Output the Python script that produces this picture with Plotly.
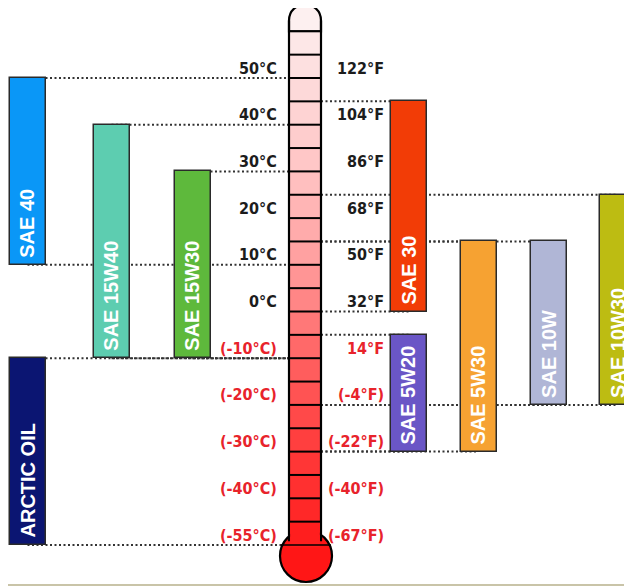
import plotly.graph_objects as go

# ---------------- data ----------------
oils = ["SAE 40", "SAE 15W40", "SAE 15W30", "ARCTIC OIL", "SAE 30",
        "SAE 5W20", "SAE 5W30", "SAE 10W", "SAE 10W30"]
top_c = [50, 40, 30, -10, 45, -5, 15, 15, 25]
bottom_c = [10, -10, -10, -55, 0, -30, -30, -20, -20]
side = ["L", "L", "L", "L", "R", "R", "R", "R", "R"]

celsius_ticks = [50, 40, 30, 20, 10, 0, -10, -20, -30, -40, -55]
fahrenheit_ticks = [122, 104, 86, 68, 50, 32, 14, -4, -22, -40, -67]

# ---------------- styles / layout ----------------
bar_colors = ["#0A97F7", "#5DCDB0", "#5EB93C", "#0B1572", "#F23C06",
              "#6A56C6", "#F6A232", "#B0B6D6", "#BDBC12"]
col_x = [27.5, 111.5, 192.5, 27.5, 408.5, 408.5, 478.5, 549, 618]
bar_w = 36
TUBE_L, TUBE_R = 289, 321
PX_PER_UNIT = 4.67
PAGE_OFF = 8  # page body margin
RED = "#E8232B"
DARK = "#1C1C1C"
LABEL_FONT = "Liberation Sans Narrow, DejaVu Sans Condensed, Arial Narrow, sans-serif"


def pos(t):
    """temperature -> axis position (last step -40 -> -55 is drawn as one division)"""
    return t if t >= -40 else -40 + (t + 40) * 10.0 / 15.0


fig = go.Figure()

bases = [pos(b) for b in bottom_c]
heights = [pos(t) - pos(b) for t, b in zip(top_c, bottom_c)]
fig.add_trace(go.Bar(
    x=col_x, y=heights, base=bases, width=bar_w,
    marker=dict(color=bar_colors, line=dict(color="#2A2A2A", width=1.5)),
    hoverinfo="skip", showlegend=False,
))

shapes = []
# dotted guide lines from each bar end to the thermometer
for cx, s, t, b in zip(col_x, side, top_c, bottom_c):
    for v in (t, b):
        x0, x1 = (cx, TUBE_L) if s == "L" else (TUBE_R, cx)
        shapes.append(dict(type="line", xref="x", yref="y", x0=x0, x1=x1,
                           y0=pos(v), y1=pos(v), layer="below",
                           line=dict(color="#333333", width=2, dash="2px,2.5px")))

# thermometer
stops = [(66, (253, 243, 243)), (50, (253, 220, 220)), (30, (255, 196, 196)),
         (10, (255, 156, 156)), (-10, (255, 98, 98)), (-30, (255, 58, 58)),
         (-50, (255, 30, 30))]


def grad(p):
    for (p0, c0), (p1, c1) in zip(stops[:-1], stops[1:]):
        if p1 <= p <= p0:
            f = (p0 - p) / (p0 - p1)
            return "rgb(%d,%d,%d)" % tuple(round(a + (b_ - a) * f) for a, b_ in zip(c0, c1))
    return "rgb(%d,%d,%d)" % stops[-1][1]


top_pos = 50 + 78 / PX_PER_UNIT - 5 / PX_PER_UNIT  # dome apex
dome = ("M %s,60 L %s,62.3 C %s,%s %s,%s %s,62.3 L %s,60 Z" %
        (TUBE_L, TUBE_L, TUBE_L, top_pos + 1.2, TUBE_R, top_pos + 1.2, TUBE_R, TUBE_R))
shapes.append(dict(type="path", xref="x", yref="y", path=dome, layer="below",
                   fillcolor=grad(64), line=dict(color="black", width=2.2)))
levels = list(range(60, -50, -5))
for hi in levels:
    lo = hi - 5
    shapes.append(dict(type="rect", xref="x", yref="y", x0=TUBE_L, x1=TUBE_R,
                       y0=lo, y1=hi, layer="below", fillcolor=grad(hi - 2.5),
                       line=dict(width=0)))
# bulb
bc = 50 - (556 - 78) / PX_PER_UNIT
br = 26 / PX_PER_UNIT
shapes.append(dict(type="circle", xref="x", yref="y", x0=280, x1=332,
                   y0=bc - br, y1=bc + br, layer="below", fillcolor="#FF1616",
                   line=dict(color="black", width=2.2)))
# tube walls
for xw in (TUBE_L, TUBE_R):
    shapes.append(dict(type="line", xref="x", yref="y", x0=xw, x1=xw,
                       y0=-49.2, y1=62.3, layer="below",
                       line=dict(color="black", width=2.2)))
# cover the bulb outline inside the tube
shapes.append(dict(type="rect", xref="x", yref="y", x0=TUBE_L + 1.1, x1=TUBE_R - 1.1,
                   y0=-50.5, y1=-45, layer="below", fillcolor="#FF1E1E",
                   line=dict(width=0)))
# segment lines
for lv in levels:
    shapes.append(dict(type="line", xref="x", yref="y", x0=TUBE_L, x1=TUBE_R,
                       y0=lv, y1=lv, layer="below",
                       line=dict(color="black", width=2)))
shapes.append(dict(type="line", xref="x", yref="y", x0=281, x1=331,
                   y0=pos(-55), y1=pos(-55), layer="below",
                   line=dict(color="black", width=1.5)))
# bottom frame line
shapes.append(dict(type="line", xref="paper", yref="paper", x0=0, x1=1,
                   y0=1 - (585 - PAGE_OFF) / 586, y1=1 - (585 - PAGE_OFF) / 586,
                   line=dict(color="#C9C4A8", width=2)))

annotations = []
for c, f in zip(celsius_ticks, fahrenheit_ticks):
    neg = c < 0
    ctext = ("(%d°C)" % c) if neg else ("%d°C" % c)
    ftext = ("(%d°F)" % f) if f < 0 else ("%d°F" % f)
    col = RED if neg else DARK
    for txt, xx in ((ctext, 279), (ftext, 386)):
        annotations.append(dict(x=xx, y=pos(c), xref="x", yref="y", text="<b>%s</b>" % txt,
                                showarrow=False, xanchor="right", yanchor="middle",
                                yshift=10, font=dict(family=LABEL_FONT, size=16, color=col)))

for name, cx, b in zip(oils, col_x, bottom_c):
    annotations.append(dict(x=cx, y=pos(b), xref="x", yref="y", text="<b>%s</b>" % name,
                            showarrow=False, textangle=-90, xanchor="center",
                            yanchor="bottom", yshift=5,
                            font=dict(family="Liberation Sans, Arial, sans-serif",
                                      size=20, color="white")))

# axis ranges chosen so that the page (with its 8px body margin) lines up with the reference
ytop = 50 + (78 - PAGE_OFF) / PX_PER_UNIT
ybot = -50 - (586 - (545 - PAGE_OFF)) / PX_PER_UNIT
fig.update_layout(
    width=632, height=586, margin=dict(l=0, r=0, t=0, b=0),
    paper_bgcolor="white", plot_bgcolor="white",
    xaxis=dict(range=[PAGE_OFF, 632 + PAGE_OFF], visible=False, fixedrange=True),
    yaxis=dict(range=[ybot, ytop], visible=False, fixedrange=True),
    shapes=shapes, annotations=annotations, bargap=0,
)
fig.write_html("out.html")
